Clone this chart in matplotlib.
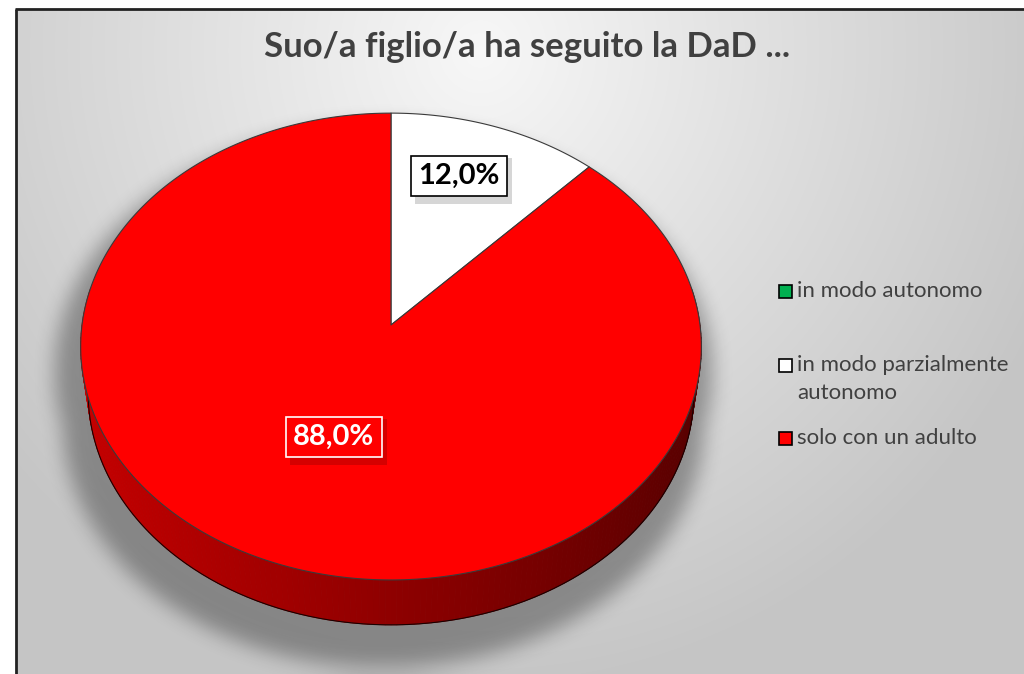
import numpy as np
import matplotlib
matplotlib.use("Agg")
import matplotlib.pyplot as plt
from matplotlib.patches import Polygon, Rectangle
from matplotlib.path import Path

# ---------------- data ----------------
title = "Suo/a figlio/a ha seguito la DaD ..."
categories = ["in modo autonomo", "in modo parzialmente\nautonomo", "solo con un adulto"]
values = [0.0, 12.0, 88.0]
colors = ["#00B050", "#FFFFFF", "#FF0000"]

# ---------------- layout ----------------
W, H = 1024, 674
fig = plt.figure(figsize=(W / 100, H / 100), dpi=100)
ax = fig.add_axes([0, 0, 1, 1])
ax.set_xlim(0, W)
ax.set_ylim(H, 0)
ax.axis("off")

FONT = ["Lato", "DejaVu Sans"]

# background radial gradient inside frame
yy, xx = np.mgrid[0:H, 0:W]
r = np.sqrt(((xx - 480) / 600.0) ** 2 + ((yy - 50) / 620.0) ** 2)
v = 0.97 - 0.19 * np.clip(r, 0, 1.2)
v = np.clip(v, 0.775, 0.975)
bg = np.dstack([v, v, v])
bg[:, :16] = 1.0
bg[:9, :] = 1.0
ax.imshow(bg, extent=(0, W, H, 0), zorder=0, interpolation="bilinear")
ax.plot([16, 16], [H + 5, 9], color="#222222", lw=2.0, zorder=1, solid_capstyle="butt")
ax.plot([15, W + 5], [9, 9], color="#222222", lw=2.0, zorder=1, solid_capstyle="butt")

# ---------------- 3D projection ----------------
cx, cy = 391.0, 325.0
e = np.deg2rad(48.5)
s_e, c_e = np.sin(e), np.cos(e)
D = 7.18
f = 309.0 * D
h = 0.235


def proj(theta, z, rad=1.0):
    x = rad * np.sin(theta)
    y = rad * np.cos(theta)
    u = y * s_e + z * c_e
    d = D + y * c_e - z * s_e
    return cx + f * x / d, cy - f * u / d


full = np.linspace(0, 2 * np.pi, 721)
tx, ty = proj(full, 0.0)
bx, by = proj(full, -h)

# shadow (blurred silhouette)
front = np.linspace(np.pi / 2 - 0.2, 3 * np.pi / 2 + 0.2, 300)
fx1, fy1 = proj(front, 0.0)
fx2, fy2 = proj(front[::-1], -h)
pts = np.column_stack([xx.ravel(), yy.ravel()])


def inside(px, py, sc=1.0, dx=0.0, dy=0.0):
    P = np.column_stack([(px - cx) * sc + cx + dx, (py - cy) * sc + cy + dy])
    return Path(P).contains_points(pts).reshape(H, W)


mask = (inside(tx, ty, 1.06, -8, 24) | inside(bx, by, 1.06, -8, 24) |
        inside(np.r_[fx1, fx2], np.r_[fy1, fy2], 1.06, -8, 24)).astype(float)


def box_blur(a, k):
    for axis in (0, 1):
        c = np.cumsum(np.pad(a, [(k, k) if i == axis else (0, 0) for i in range(2)], mode="edge"), axis=axis)
        if axis == 0:
            a = (c[2 * k:] - np.vstack([np.zeros((1, a.shape[1])), c[:-2 * k - 1]])) / (2 * k + 1)
        else:
            a = (c[:, 2 * k:] - np.hstack([np.zeros((a.shape[0], 1)), c[:, :-2 * k - 1]])) / (2 * k + 1)
    return a


for _ in range(3):
    mask = box_blur(mask, 9)
shadow = np.zeros((H, W, 4))
shadow[..., 3] = mask * 0.33
shadow[:, :16, 3] = 0
ax.imshow(shadow, extent=(0, W, H, 0), zorder=1, interpolation="bilinear")

# slices
tot = sum(values)
angles = np.cumsum([0] + [v_ / tot * 2 * np.pi for v_ in values])

# side: draw quads for visible front half, back to front
nseg = 360
th = np.linspace(0, 2 * np.pi, nseg + 1)
order = np.argsort(np.cos(0.5 * (th[:-1] + th[1:])))[::-1]
for i in order:
    a0, a1 = th[i], th[i + 1]
    mid = 0.5 * (a0 + a1)
    if np.cos(mid) > 0.15:
        continue
    k = int(np.searchsorted(angles, mid, side="right") - 1)
    k = min(max(k, 0), len(values) - 1)
    base = np.array(matplotlib.colors.to_rgb(colors[k]))
    shade = 0.56 - 0.22 * np.sin(mid)
    col = base * shade
    x0, y0 = proj(a0, 0.0)
    x1, y1 = proj(a1, 0.0)
    x2, y2 = proj(a1, -h)
    x3, y3 = proj(a0, -h)
    ax.add_patch(Polygon([[x0, y0], [x1, y1], [x2, y2], [x3, y3]], closed=True,
                         facecolor=col, edgecolor=col, lw=0.6, zorder=3))
# bottom outline of side
ff = np.linspace(np.pi / 2 - 0.1, 3 * np.pi / 2 + 0.1, 300)
ox, oy = proj(ff, -h)
ax.plot(ox, oy, color="#1a0000", lw=0.8, zorder=4)

# top faces
for k, v_ in enumerate(values):
    if v_ <= 0:
        continue
    tt = np.linspace(angles[k], angles[k + 1], max(int(v_ * 6), 10))
    px, py = proj(tt, 0.0)
    poly = np.column_stack([np.r_[cx, px], np.r_[cy, py]])
    ax.add_patch(Polygon(poly, closed=True, facecolor=colors[k],
                         edgecolor="#3a3a3a", lw=0.8, zorder=5, joinstyle="round"))

# data labels
label_pos = [None, (459, 176), (334, 437)]
label_style = [None, dict(fc="white", ec="black", tc="black"), dict(fc="#FF0000", ec="white", tc="white")]
for k, v_ in enumerate(values):
    if v_ <= 0 or label_pos[k] is None:
        continue
    st = label_style[k]
    txt = f"{v_:.1f}%".replace(".", ",")
    x, y = label_pos[k]
    ax.add_patch(Rectangle((x - 48 + 4, y - 23 + 5), 97, 46, facecolor="black", alpha=0.16,
                           edgecolor="none", zorder=6))
    ax.text(x, y, txt, ha="center", va="center", fontsize=21, fontweight="bold",
            color=st["tc"], family=FONT, zorder=8,
            bbox=dict(boxstyle="square,pad=0.25", fc=st["fc"], ec=st["ec"], lw=1.2))

# title
ax.text(527, 47, title, ha="center", va="center", fontsize=25, fontweight="bold",
        color="#404040", family=FONT, zorder=9)

# legend
leg_y = [291, 365, 438]
for k, cat in enumerate(categories):
    y = leg_y[k]
    ax.add_patch(Rectangle((779, y - 6.5), 13, 13, facecolor=colors[k], edgecolor="black",
                           lw=1.2, zorder=9))
    ax.text(797, y, cat.split("\n")[0], ha="left", va="center", fontsize=16, color="#404040",
            family=FONT, zorder=9)
    for j, extra in enumerate(cat.split("\n")[1:]):
        ax.text(797, y + 28 * (j + 1), extra, ha="left", va="center", fontsize=16,
                color="#404040", family=FONT, zorder=9)

fig.savefig("out.png", dpi=100)
